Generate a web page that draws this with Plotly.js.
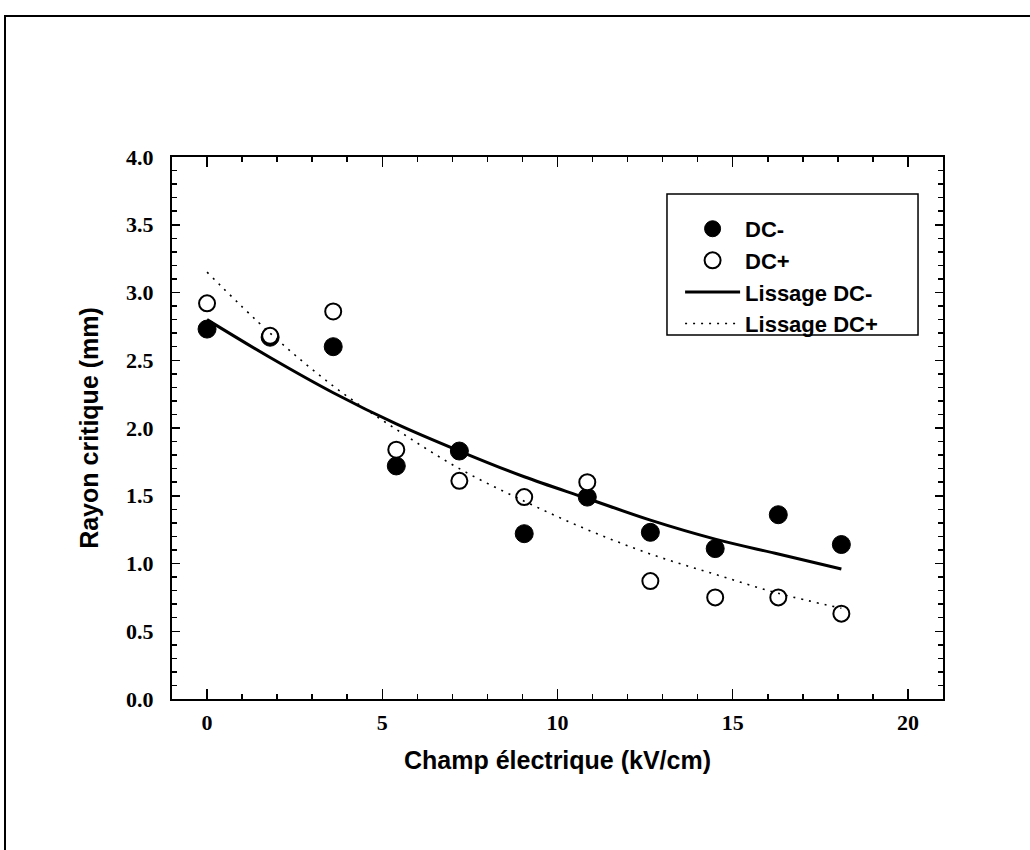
<!DOCTYPE html>
<html>
<head>
<meta charset="utf-8">
<script src="https://cdn.plot.ly/plotly-3.0.1.min.js"></script>
<style>
html,body{margin:0;padding:0;background:#fff;}
#wrap{position:relative;width:1030px;height:850px;}
#frame{position:absolute;left:4px;top:15px;width:1030px;height:840px;border-top:2px solid #000;border-left:2px solid #000;pointer-events:none;z-index:5;}
#chart{position:absolute;left:0;top:0;width:1030px;height:850px;}
</style>
</head>
<body>
<div id="wrap">
<div id="chart"></div>
<div id="frame"></div>
</div>
<script>
// Field values (kV/cm)
const champ = [0, 1.8, 3.6, 5.4, 7.2, 9.05, 10.85, 12.65, 14.5, 16.3, 18.1];
// Measured critical radius (mm)
const dcMoins = [2.73, 2.67, 2.60, 1.72, 1.83, 1.22, 1.49, 1.23, 1.11, 1.36, 1.14];
const dcPlus  = [2.92, 2.68, 2.86, 1.84, 1.61, 1.49, 1.60, 0.87, 0.75, 0.75, 0.63];
// Smoothing curves
const lissageMoins = [2.80, 2.52, 2.26, 2.03, 1.83, 1.64, 1.48, 1.32, 1.18, 1.07, 0.96];
const lissagePlus  = [3.15, 2.70, 2.31, 1.99, 1.70, 1.46, 1.25, 1.07, 0.92, 0.78, 0.67];
const names = ['DC-', 'DC+', 'Lissage DC-', 'Lissage DC+'];
const xTicks = [0, 5, 10, 15, 20];
const yTicks = [0, 0.5, 1, 1.5, 2, 2.5, 3, 3.5, 4];
const yTickText = ['0.0', '0.5', '1.0', '1.5', '2.0', '2.5', '3.0', '3.5', '4.0'];

const traces = [
  {x: champ, y: dcMoins, name: names[0], mode: 'markers', type: 'scatter',
   marker: {symbol: 'circle', size: 18, color: '#000', line: {color: '#000', width: 1}}},
  {x: champ, y: dcPlus, name: names[1], mode: 'markers', type: 'scatter',
   marker: {symbol: 'circle', size: 16, color: '#fff', line: {color: '#000', width: 2}}},
  {x: champ, y: lissageMoins, name: names[2], mode: 'lines', type: 'scatter',
   line: {color: '#000', width: 3, shape: 'spline'}},
  {x: champ, y: lissagePlus, name: names[3], mode: 'lines', type: 'scatter',
   line: {color: '#000', width: 1.6, shape: 'spline', dash: '2px,6px'}}
];

const tickFont = {family: 'Liberation Serif, Times New Roman, serif', size: 22, color: '#000', weight: 'bold'};
const titleFont = {family: 'Liberation Sans, Arial, sans-serif', size: 25, color: '#000', weight: 'bold'};

const layout = {
  width: 1030, height: 850,
  margin: {l: 172, r: 87, t: 157, b: 151},
  paper_bgcolor: '#fff', plot_bgcolor: '#fff',
  showlegend: true,
  legend: {
    x: 0.659, y: 0.906, xanchor: 'left', yanchor: 'top',
    borderwidth: 0, bgcolor: 'rgba(0,0,0,0)',
    font: {family: 'Liberation Sans, Arial, sans-serif', size: 22, color: '#000', weight: 'bold'},
    itemwidth: 55, tracegroupgap: 0
  },
  shapes: [
    {type: 'rect', xref: 'paper', yref: 'paper', x0: 0.642, x1: 0.9676, y0: 0.6716, y1: 0.9317,
     line: {color: '#000', width: 1.5}, fillcolor: 'rgba(0,0,0,0)', layer: 'above'}
  ],
  xaxis: {
    range: [-1, 21], tickvals: xTicks,
    ticks: 'inside', ticklen: 10, tickwidth: 1.5, tickcolor: '#000',
    minor: {dtick: 1, ticks: 'inside', ticklen: 5, tickwidth: 1.5, tickcolor: '#000', showgrid: false},
    showline: true, linecolor: '#000', linewidth: 2, mirror: 'ticks',
    showgrid: false, zeroline: false,
    tickfont: tickFont, ticklabelstandoff: 3,
    title: {text: 'Champ électrique (kV/cm)', font: titleFont, standoff: 17}
  },
  yaxis: {
    range: [0, 4], tickvals: yTicks, ticktext: yTickText,
    ticks: 'inside', ticklen: 8, tickwidth: 1.5, tickcolor: '#000',
    minor: {dtick: 0.1, ticks: 'inside', ticklen: 5, tickwidth: 1.5, tickcolor: '#000', showgrid: false},
    showline: true, linecolor: '#000', linewidth: 2, mirror: 'ticks',
    showgrid: false, zeroline: false,
    tickfont: tickFont, ticklabelstandoff: 12,
    title: {text: 'Rayon critique (mm)', font: titleFont, standoff: 20}
  }
};

Plotly.newPlot('chart', traces, layout, {displayModeBar: false, staticPlot: true});
</script>
</body>
</html>
